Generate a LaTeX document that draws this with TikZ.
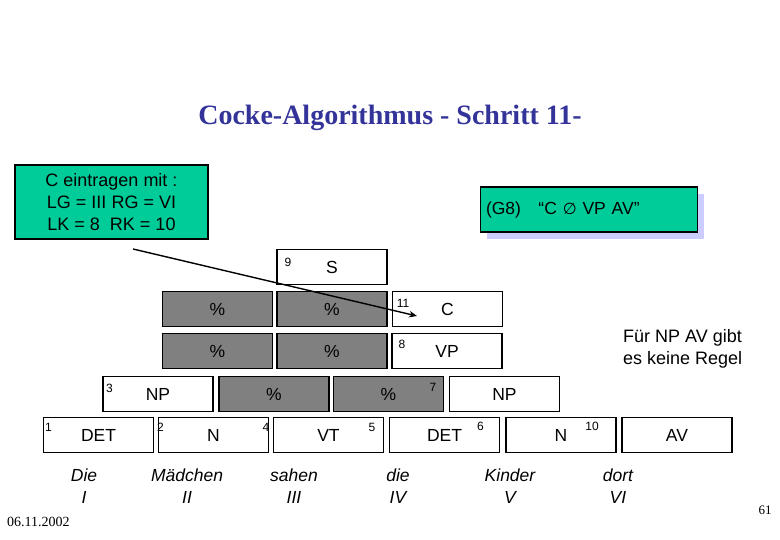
\documentclass[tikz,border=0pt]{standalone}
\usepackage{fontspec}
\setmainfont{Liberation Sans}
\newfontfamily\serifF{Liberation Serif}
\newfontfamily\symF{DejaVu Sans}
\usetikzlibrary{arrows.meta}
\definecolor{titleblue}{HTML}{333399}
\definecolor{pgreen}{HTML}{00CC99}
\definecolor{shadowlav}{HTML}{CCCCFF}
\definecolor{cellgrey}{HTML}{808080}
\tikzset{
  cell/.style={draw=black, line width=1.6pt, minimum width=110pt, minimum height=35pt, inner sep=0pt, fill=white, font=\fontsize{17.5}{20}\selectfont},
  greycell/.style={cell, fill=cellgrey},
  num/.style={inner sep=0pt, font=\fontsize{12}{14}\selectfont},
  word/.style={inner sep=0pt, font=\fontsize{17.5}{22}\selectfont\itshape, align=center},
  greenbox/.style={draw=black, line width=1.6pt, fill=pgreen, inner sep=0pt},
}
\begin{document}
\begin{tikzpicture}[x=1pt, y=-1pt]
\useasboundingbox (0,0) rectangle (780,540);
% title
\node[text=titleblue, font=\serifF\bfseries\fontsize{28}{32}\selectfont, inner sep=0pt] (title) at (390,118) {Cocke-Algorithmus - Schritt 11-};
% left green box
\node[greenbox, minimum width=193pt, minimum height=74pt, align=center, font=\fontsize{18}{22}\selectfont] (info) at (111.5,202) {C eintragen mit :\\LG = III RG = VI\\LK = 8\ \ RK = 10};
% right green box with shadow
\fill[shadowlav] (487,194) rectangle (704,239);
\node[greenbox, minimum width=217pt, minimum height=45pt, text width=206pt, align=left, font=\fontsize{17.5}{20}\selectfont] (rule) at (589,209.5) {(G8)\ \ \ “C {\symF\fontsize{16}{18}\selectfont ∅} VP AV”};
% row 5
\node[cell] (s) at (332,267) {S};
% row 4
\node[greycell] (r4a) at (217.5,309) {\%};
\node[greycell] (r4b) at (332,309) {\%};
\node[cell] (c) at (447.5,309) {C};
% row 3
\node[greycell] (r3a) at (217.5,351) {\%};
\node[greycell] (r3b) at (332,351) {\%};
\node[cell] (vp) at (447,351) {VP};
% row 2
\node[cell] (np1) at (158,394) {NP};
\node[greycell] (r2a) at (274,394) {\%};
\node[greycell] (r2b) at (388.5,394) {\%};
\node[cell] (np2) at (504.5,394) {NP};
% row 1
\node[cell] (det1) at (98.5,435) {DET};
\node[cell] (n1) at (213.5,435) {N};
\node[cell] (vt) at (328.5,435) {VT};
\node[cell] (det2) at (444.5,435) {DET};
\node[cell] (n2) at (561,435) {N};
\node[cell] (av) at (677,435) {AV};
% numbers
\node[num] (k9) at (288,262) {9};
\node[num] (k11) at (403,303) {11};
\node[num] (k8) at (402,344) {8};
\node[num] (k3) at (109.5,388) {3};
\node[num] (k7) at (433,387) {7};
\node[num] (k1) at (48.5,427) {1};
\node[num] (k2) at (160.5,427) {2};
\node[num] (k4) at (266,427) {4};
\node[num] (k5) at (372,427) {5};
\node[num] (k6) at (480.5,426) {6};
\node[num] (k10) at (592,426) {10};
% words
\node[word] (w1) at (84,486) {Die\\I};
\node[word] (w2) at (187,486) {Mädchen\\II};
\node[word] (w3) at (294,486) {sahen\\III};
\node[word] (w4) at (398,486) {die\\IV};
\node[word] (w5) at (510,486) {Kinder\\V};
\node[word] (w6) at (618,486) {dort\\VI};
% note
\node[inner sep=0pt, align=left, anchor=west, font=\fontsize{18}{22}\selectfont] (note) at (623,349) {Für NP AV gibt\\es keine Regel};
% arrow
\coordinate (arrS) at (133,249);
\coordinate (arrE) at (417,316);
\draw[line width=1.4pt, -{Stealth[length=8pt,width=6.5pt]}] (arrS) -- (arrE);
% footer
\node[inner sep=0pt, anchor=west, font=\serifF\fontsize{14}{16}\selectfont] (date) at (7,522) {06.11.2002};
\node[inner sep=0pt, font=\serifF\fontsize{13}{15}\selectfont] (page) at (765,510) {61};
\end{tikzpicture}
\end{document}
